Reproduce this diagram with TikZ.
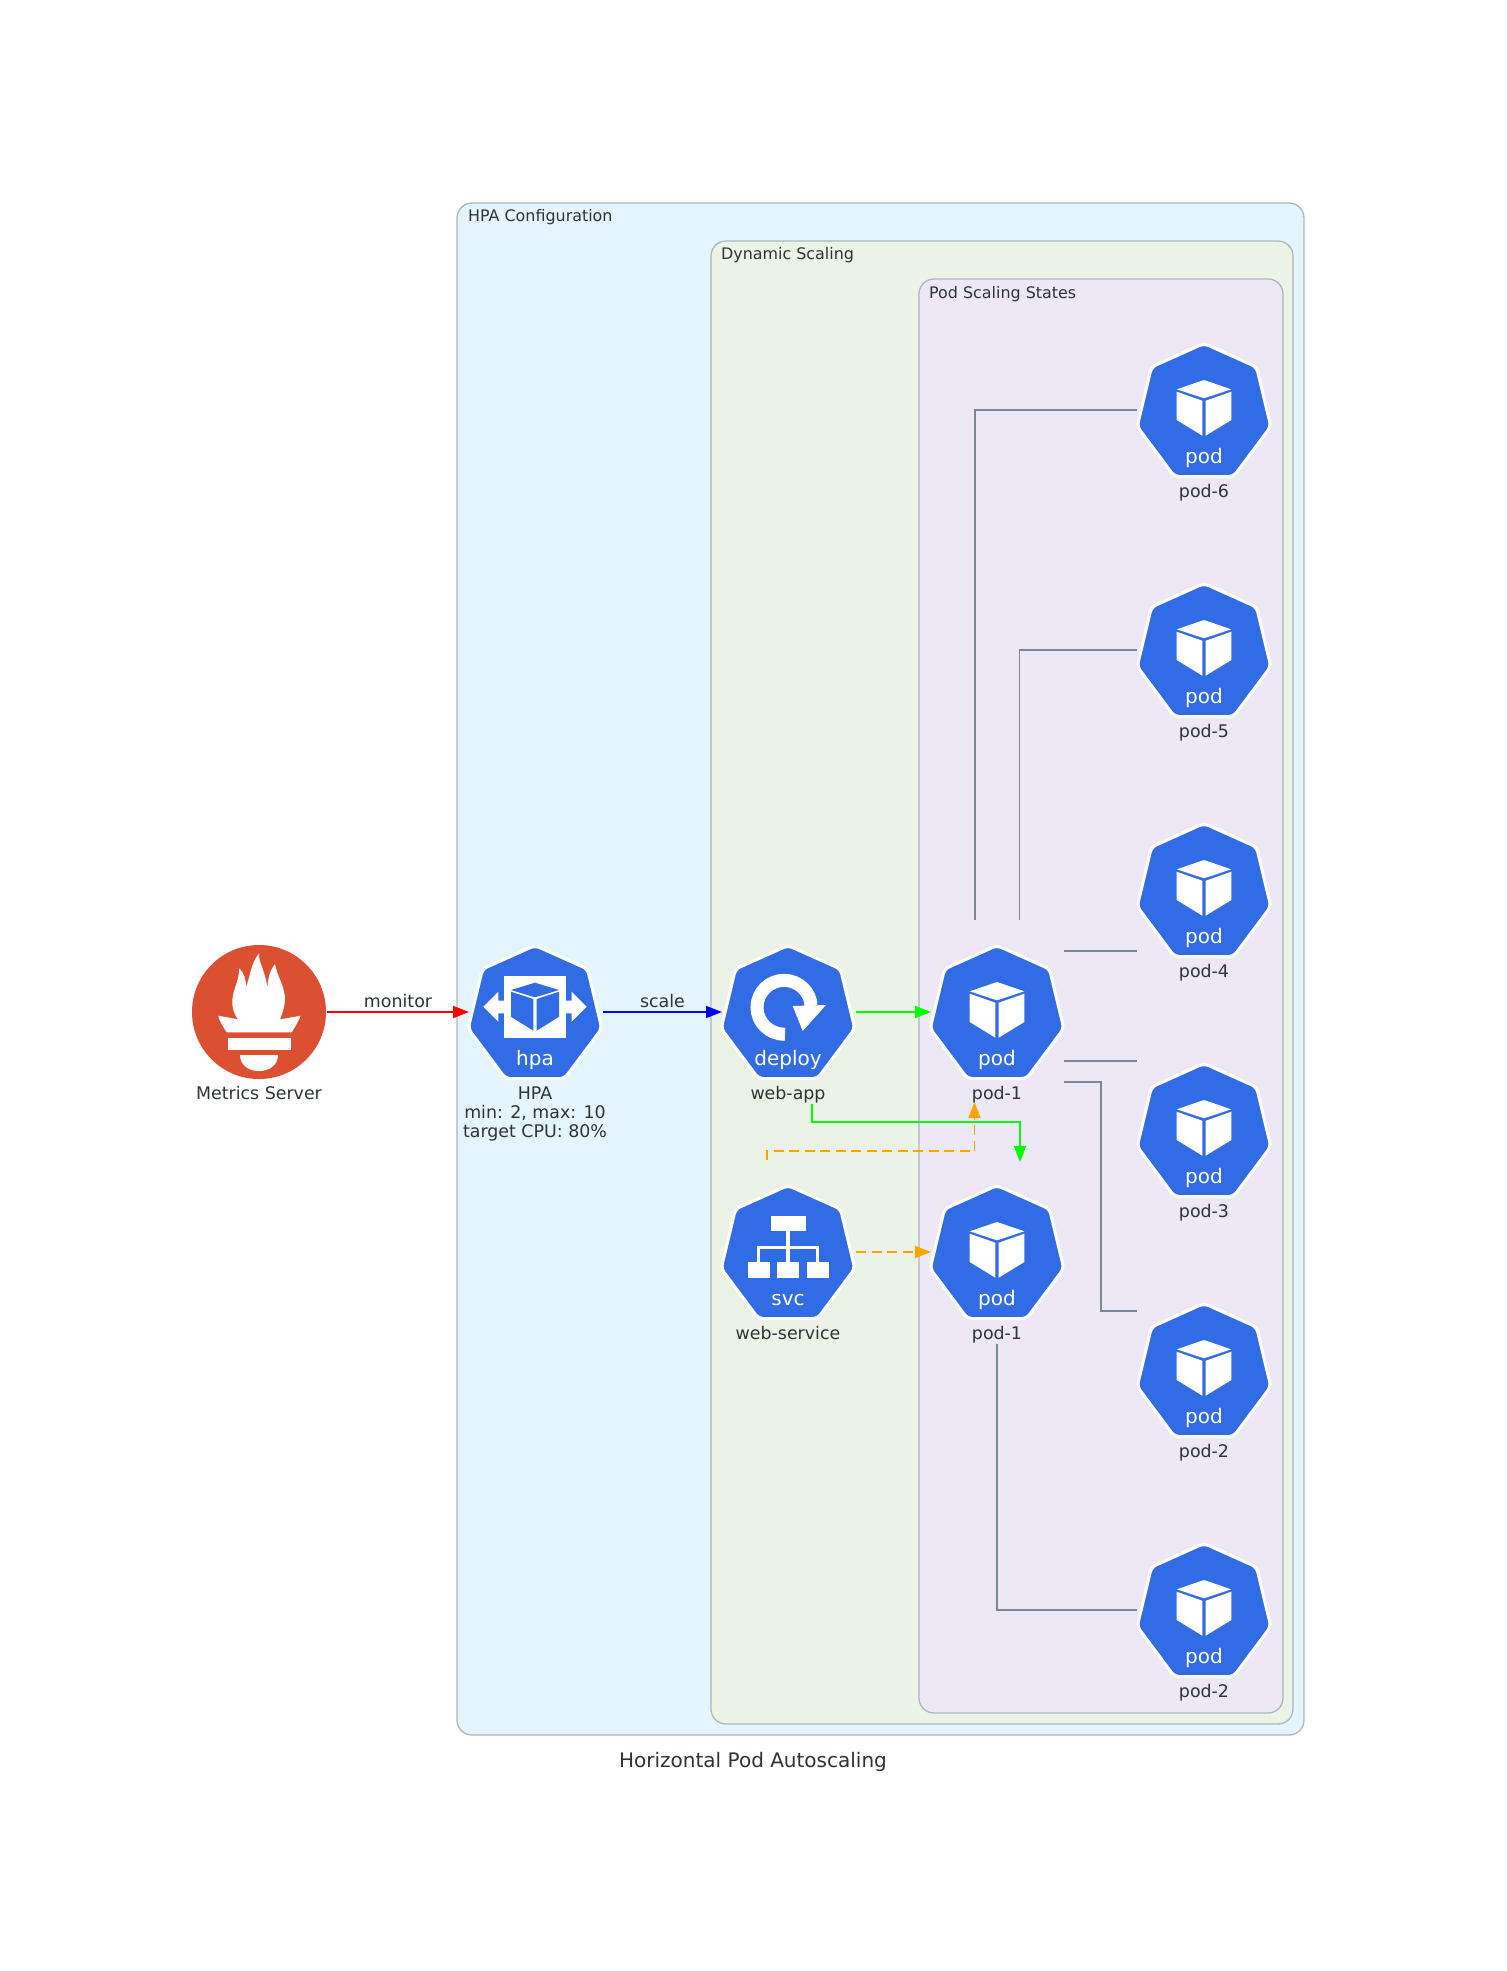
\documentclass[tikz,border=0pt]{standalone}
\usepackage{fontspec}
\setmainfont{DejaVu Sans}
\usetikzlibrary{arrows.meta}
\definecolor{kblue}{HTML}{326CE5}
\definecolor{promred}{HTML}{DC5032}
\definecolor{txt}{HTML}{2D3436}
\definecolor{edgegray}{HTML}{7B8894}
\definecolor{boxline}{HTML}{AEB6BE}
\definecolor{boxa}{HTML}{E5F5FD}
\definecolor{boxb}{HTML}{EBF3E7}
\definecolor{boxc}{HTML}{ECE8F6}
\definecolor{edgeorange}{HTML}{FFA500}
\tikzset{
  iconbox/.style={minimum size=134pt,inner sep=0pt,outer sep=0pt,draw=none},
  icontag/.style={anchor=base,text=white,inner sep=0pt,font=\fontsize{20}{22}\selectfont},
  nodelabel/.style={anchor=base,text=txt,inner sep=0pt,font=\fontsize{17.4}{19}\selectfont},
  boxlabel/.style={anchor=base west,text=txt,inner sep=0pt,font=\fontsize{15.9}{18}\selectfont},
  titlelabel/.style={anchor=base,text=txt,inner sep=0pt,font=\fontsize{20}{22}\selectfont},
  edgelabel/.style={anchor=base,text=txt,inner sep=0pt,yshift=5pt,font=\fontsize{17.4}{19}\selectfont},
  clusterbox/.style={draw=boxline,line width=1.3pt,rounded corners=15pt},
  edge/.style={line width=1.5pt,-{Triangle[length=16pt,width=12pt]}},
  plainedge/.style={line width=1.3pt,draw=edgegray},
  dashline/.style={dash pattern=on 10pt off 5.5pt}
}
\newcommand{\heptashape}{\path[fill=kblue,draw=white,line width=3pt,rounded corners=5pt,line join=round]
  (0,-66.5) -- (52.5,-43) -- (66.8,16.5) -- (29.5,66.5) -- (-29.5,66.5) -- (-66.8,16.5) -- (-52.5,-43) -- cycle;}
\newcommand{\podcube}{%
  \fill[white] (0,-30) -- (27.3,-20.7) -- (0,-11.7) -- (-27.3,-20.7) -- cycle;
  \fill[white] (-27.3,-18.3) -- (-1.7,-9.3) -- (-1.7,25.7) -- (-27.3,10) -- cycle;
  \fill[white] (27.3,-18.3) -- (1.7,-9.3) -- (1.7,25.7) -- (27.3,10) -- cycle;}
\newcommand{\hpaglyph}{%
  \fill[white] (-31,-36) rectangle (31,25.7);
  \fill[white] (-31,-11.3) -- (-36.7,-11.3) -- (-36.7,-20.3) -- (-51.7,-5.3) -- (-36.7,9.7) -- (-36.7,1.3) -- (-31,1.3) -- cycle;
  \fill[white] (31,-11.3) -- (36.7,-11.3) -- (36.7,-20.3) -- (51.7,-5.3) -- (36.7,9.7) -- (36.7,1.3) -- (31,1.3) -- cycle;
  \fill[kblue] (0,-29.3) -- (24,-22) -- (0,-14.7) -- (-24,-22) -- cycle;
  \fill[kblue] (-24,-20.3) -- (-1.7,-13) -- (-1.7,18.7) -- (-24,4.7) -- cycle;
  \fill[kblue] (24,-20.3) -- (1.7,-13) -- (1.7,18.7) -- (24,4.7) -- cycle;}
\newcommand{\deployglyph}{%
  \draw[white,line width=13pt] (-3,22.3) .. controls (-18.9,22.3) and (-31,10.2) .. (-31,-4.7)
    .. controls (-31,-19.6) and (-18.9,-31.7) .. (-4,-31.7)
    .. controls (10.9,-31.7) and (23,-19.6) .. (23,-6);
  \fill[white] (4.7,-6) -- (38,-7) -- (14.7,19) -- cycle;}
\newcommand{\svcglyph}{%
  \fill[white] (-17,-36.3) rectangle (17.7,-20.7);
  \fill[white] (-40.3,10.3) rectangle (-18.3,26);
  \fill[white] (-10.7,10.3) rectangle (11,26);
  \fill[white] (19,10.3) rectangle (40.7,26);
  \draw[white,line width=3.6pt] (0,-21) -- (0,11);
  \draw[white,line width=3.6pt] (-29.5,11) -- (-29.5,-4.5) -- (29.5,-4.5) -- (29.5,11);}
% name, x, y, tag, label, glyph
\newcommand{\kicon}[6]{%
  \node[iconbox] (#1) at (#2+1,#3) {};
  \begin{scope}[shift={(#2,#3)}]
    \heptashape
    #6
    \node[icontag] (#1tag) at (0,53) {#4};
  \end{scope}
  \node[nodelabel] (#1label) at (#2,#3+87) {#5};}

\begin{document}
\begin{tikzpicture}[x=1pt,y=-1pt]
\useasboundingbox (0,0) rectangle (1507,1971);
\fill[white] (0,0) rectangle (1507,1971);

% clusters
\path[clusterbox,fill=boxa] (457,203) rectangle (1304,1735);
\node[boxlabel] (hpacfg) at (468,221) {HPA Configuration};
\path[clusterbox,fill=boxb] (711,241) rectangle (1293,1724);
\node[boxlabel] (dynscale) at (721,259) {Dynamic Scaling};
\path[clusterbox,fill=boxc] (919,279) rectangle (1283,1713);
\node[boxlabel] (podstates) at (929,298) {Pod Scaling States};

% Prometheus
\node[iconbox] (metrics) at (260,1012) {};
\fill[promred] (259,1012) circle[radius=67];
\begin{scope}[shift={(259,1012)}]
  \fill[white] (-40.7,3.7) -- (-21,7.3) .. controls (-25,2) and (-27,-4) .. (-26.7,-11)
    .. controls (-26.5,-22) and (-20,-30) .. (-19.7,-43.7)
    .. controls (-15,-39) and (-13,-33) .. (-13,-25.3)
    .. controls (-8,-37) and (-9,-47) .. (0,-58.7)
    .. controls (-1,-50) and (8,-38) .. (8.3,-22)
    .. controls (8.5,-33) and (11,-42) .. (16,-48)
    .. controls (18,-36) and (26.3,-25) .. (26,-12)
    .. controls (25.5,-4) and (23,2) .. (21,7.3) -- (41.7,3.7)
    .. controls (39,10) and (36,15) .. (32.7,20.3) -- (-32.3,20.3)
    .. controls (-36,15) and (-39,10) .. (-40.7,3.7) -- cycle;
  \fill[white] (-31.3,26.3) rectangle (32,37.7);
  \fill[white] (-19,43) -- (19,43) .. controls (19,53) and (10.5,59) .. (0,59) .. controls (-10.5,59) and (-19,53) .. (-19,43) -- cycle;
\end{scope}
\node[nodelabel] (metricslabel) at (259,1099) {Metrics Server};

% icons
\kicon{hpa}{535}{1012}{hpa}{HPA}{\hpaglyph}
\node[nodelabel] (hpalabelb) at (535,1118) {min: 2, max: 10};
\node[nodelabel] (hpalabelc) at (535,1137) {target CPU: 80\%};
\kicon{deploy}{788}{1012}{deploy}{web-app}{\deployglyph}
\kicon{svc}{788}{1252}{svc}{web-service}{\svcglyph}
\kicon{podone}{997}{1012}{pod}{pod-1}{\podcube}
\kicon{podonet}{997}{1252}{pod}{pod-1}{\podcube}
\kicon{podsix}{1204}{410}{pod}{pod-6}{\podcube}
\kicon{podfive}{1204}{650}{pod}{pod-5}{\podcube}
\kicon{podfour}{1204}{890}{pod}{pod-4}{\podcube}
\kicon{podthree}{1204}{1130}{pod}{pod-3}{\podcube}
\kicon{podtwo}{1204}{1370}{pod}{pod-2}{\podcube}
\kicon{podtwob}{1204}{1610}{pod}{pod-2}{\podcube}

\node[titlelabel] (title) at (753,1767) {Horizontal Pod Autoscaling};

% free ends of the connectors
\coordinate (sixstart) at (975,920);
\coordinate (sixend) at (1136.5,410);
\coordinate (fivestart) at (1019.5,920);
\coordinate (fiveend) at (1136.5,650);
\coordinate (fourstart) at (1064,951);
\coordinate (fourend) at (1136.5,951);
\coordinate (threestart) at (1064,1061);
\coordinate (threeend) at (1136.5,1061);
\coordinate (twostart) at (1064,1082);
\coordinate (twobend) at (1101,1082);
\coordinate (twocorner) at (1101,1311);
\coordinate (twoend) at (1136.5,1311);
\coordinate (twobstart) at (997,1344);
\coordinate (twobend2) at (1136.5,1610);
\coordinate (ga) at (812,1104);
\coordinate (gb) at (812,1122);
\coordinate (gc) at (1020,1122);
\coordinate (gd) at (1020,1162);
\coordinate (oa) at (767,1160);
\coordinate (ob) at (767,1151);
\coordinate (oc) at (974.5,1151);
\coordinate (od) at (974.5,1102);

% connectors
\draw[edge,red] (metrics.east) -- (hpa.west) node[midway,edgelabel] (monitorlabel) {monitor};
\draw[edge,blue] (hpa.east) -- (deploy.west) node[midway,edgelabel] (scalelabel) {scale};
\draw[edge,green] (deploy.east) -- (podone.west);
\draw[edge,green] (ga) -- (gb) -- (gc) -- (gd);
\draw[edge,edgeorange,dashline] (svc.east) -- (podonet.west);
\draw[edge,edgeorange,dashline] (oa) -- (ob) -- (oc) -- (od);
\draw[plainedge] (sixstart) |- (sixend);
\draw[plainedge] (fivestart) |- (fiveend);
\draw[plainedge] (fourstart) -- (fourend);
\draw[plainedge] (threestart) -- (threeend);
\draw[plainedge] (twostart) -- (twobend) -- (twocorner) -- (twoend);
\draw[plainedge] (twobstart) |- (twobend2);
\end{tikzpicture}
\end{document}
